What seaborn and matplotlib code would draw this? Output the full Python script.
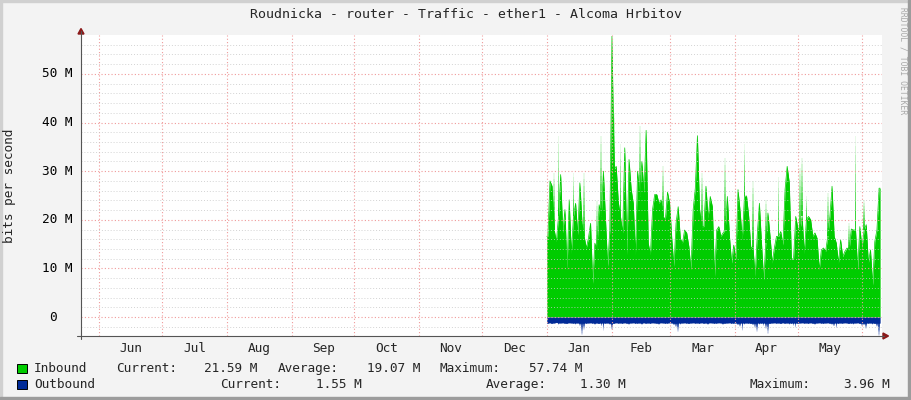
import numpy as np
import pandas as pd
import matplotlib
matplotlib.use("Agg")
import matplotlib.pyplot as plt
import matplotlib.dates as mdates
from matplotlib.patches import Rectangle, Polygon
from matplotlib.lines import Line2D
import seaborn as sns

# ── data (Mbit/s, one value per ~day from 1 Jan) ─────────────
in_avg = [
    16.6, 28.0, 26.9, 17.9, 15.5, 20.7, 29.3, 17.3, 22.1, 9.7, 24.1, 13.1,
    20.7, 23.4, 16.9, 27.6, 19.3, 16.6, 14.2, 16.2, 19.3, 6.9, 15.2, 13.8,
    23.1, 20.7, 30.0, 20.0, 10.4, 17.9, 57.74, 30.3, 31.0, 23.6, 20.7, 17.3,
    34.8, 12.8, 32.4, 26.3, 23.4, 12.8, 30.0, 24.8, 32.0, 25.5, 38.4, 15.2,
    12.8, 22.1, 25.2, 25.2, 23.4, 24.1, 20.7, 20.0, 25.7, 23.4, 16.2, 10.4,
    19.3, 22.7, 16.2, 15.2, 17.9, 17.3, 14.5, 9.7, 22.1, 26.5, 37.3, 22.2,
    18.6, 18.6, 26.9, 20.3, 24.8, 22.7, 8.3, 17.9, 18.6, 16.6, 17.3, 17.9,
    24.8, 16.6, 11.1, 14.8, 11.8, 26.2, 21.7, 15.9, 24.8, 24.9, 20.7, 14.2,
    14.5, 8.3, 16.9, 23.4, 15.2, 7.6, 15.2, 21.4, 16.6, 11.1, 14.2, 16.6,
    16.6, 17.6, 14.8, 26.2, 31.0, 27.6, 11.8, 12.1, 20.7, 18.3, 17.9, 20.7,
    13.1, 20.0, 20.7, 20.0, 16.6, 17.3, 16.2, 9.7, 13.8, 14.2, 13.5, 16.6,
    20.7, 26.9, 16.6, 15.2, 11.1, 15.9, 12.4, 13.5, 14.2, 13.8, 18.1, 17.9,
    17.9, 9.8, 18.6, 14.2, 17.9, 19.0, 11.1, 13.8, 6.6, 15.5, 17.9, 26.5,
]
in_max = [
    16.6, 28.0, 26.9, 29.6, 15.5, 37.2, 29.3, 17.3, 22.1, 9.7, 24.1, 13.1,
    29.6, 23.4, 16.9, 27.6, 19.3, 29.6, 14.2, 16.2, 19.3, 6.9, 15.2, 23.8,
    23.1, 37.2, 30.0, 20.0, 10.4, 17.9, 57.74, 42.0, 31.0, 23.6, 35.5, 17.3,
    34.8, 12.8, 32.4, 26.3, 23.4, 12.8, 30.0, 39.2, 32.0, 25.5, 38.4, 15.2,
    12.8, 22.1, 25.2, 25.2, 23.4, 24.1, 31.0, 20.0, 25.7, 23.4, 16.2, 10.4,
    19.3, 22.7, 16.2, 15.2, 17.9, 17.3, 14.5, 9.7, 22.1, 26.5, 37.3, 22.2,
    29.6, 18.6, 26.9, 20.3, 24.8, 22.7, 8.3, 17.9, 18.6, 16.6, 17.3, 32.7,
    24.8, 16.6, 11.1, 14.8, 11.8, 26.2, 21.7, 15.9, 35.5, 24.9, 20.7, 14.2,
    27.9, 8.3, 16.9, 23.4, 15.2, 7.6, 24.1, 21.4, 16.6, 11.1, 14.2, 16.6,
    28.9, 17.6, 14.8, 26.2, 31.0, 27.6, 11.8, 12.1, 20.7, 18.3, 30.7, 32.7,
    13.1, 24.8, 20.7, 20.0, 16.6, 17.3, 16.2, 9.7, 13.8, 14.2, 13.5, 25.5,
    20.7, 26.9, 16.6, 15.2, 11.1, 15.9, 12.4, 13.5, 14.2, 19.3, 18.1, 17.9,
    37.2, 9.8, 18.6, 14.2, 24.1, 19.0, 11.1, 13.8, 6.6, 15.5, 17.9, 26.5,
]
out_vals = [
    -1.4, -1.2, -1.5, -1.3, -1.1, -1.6, -1.3, -1.2, -1.4, -1.5, -1.2, -1.3,
    -1.4, -1.6, -1.3, -1.8, -3.7, -2.6, -1.5, -1.3, -1.2, -1.4, -1.6, -1.3,
    -1.5, -1.9, -2.8, -1.4, -1.3, -1.6, -2.7, -1.5, -1.2, -1.4, -1.3, -1.5,
    -1.2, -1.4, -1.6, -1.3, -1.2, -1.5, -1.4, -1.3, -1.6, -1.2, -1.4, -1.3,
    -1.5, -1.2, -1.3, -1.4, -1.6, -1.2, -1.3, -1.5, -1.4, -1.2, -1.3, -1.7,
    -2.1, -3.0, -1.6, -1.3, -1.2, -1.4, -1.5, -1.3, -1.2, -1.4, -1.3, -1.5,
    -1.2, -1.4, -1.3, -1.6, -1.2, -1.3, -1.5, -1.4, -1.2, -1.3, -1.6, -1.4,
    -1.3, -1.2, -1.5, -1.4, -1.3, -1.7, -2.0, -2.9, -1.6, -1.3, -1.4, -1.5,
    -1.7, -2.2, -3.0, -1.6, -1.4, -1.8, -2.4, -3.4, -1.5, -1.3, -1.2, -1.4,
    -1.3, -1.5, -1.2, -1.4, -1.3, -1.6, -1.5, -1.8, -2.2, -1.4, -1.3, -1.2,
    -1.4, -1.3, -1.5, -1.2, -1.4, -1.6, -1.3, -1.2, -1.4, -1.5, -1.3, -1.2,
    -1.4, -1.6, -1.9, -2.3, -1.5, -1.3, -1.4, -1.2, -1.3, -1.5, -1.4, -1.6,
    -1.3, -1.2, -1.5, -1.8, -1.7, -2.4, -1.4, -1.3, -1.6, -1.5, -2.0, -3.96,
]
months = ["Jun", "Jul", "Aug", "Sep", "Oct", "Nov", "Dec",
          "Jan", "Feb", "Mar", "Apr", "May"]
y_ticks = [0, 10, 20, 30, 40, 50]
y_labels = ["0", "10 M", "20 M", "30 M", "40 M", "50 M"]
in_stats = ["21.59 M", "19.07 M", "57.74 M"]
out_stats = ["1.55 M", "1.30 M", "3.96 M"]

TITLE = "Roudnicka - router - Traffic - ether1 - Alcoma Hrbitov"
GREEN = "#00CC00"
BLUE = "#002A97"
W, H = 911, 400

sns.set_theme(style="white", rc={
    "figure.facecolor": "#F3F3F3",
    "axes.facecolor": "#FFFFFF",
})
plt.rcParams["font.family"] = ["DejaVu Sans Mono", "DejaVu Sans"]
FS = 9.2


def fx(px):
    return px / W


def fy(py):
    return 1 - py / H


fig = plt.figure(figsize=(W / 100, H / 100), dpi=100)
ax = fig.add_axes([fx(81), fy(336), (882 - 81) / W, (336 - 35) / H])

# time axis: one value per step starting at 1 Jan 2025
start = mdates.date2num(pd.Timestamp("2025-01-01"))
n = len(in_avg)
step = 159.5 / n
xs = start + (np.arange(n) + 0.5) * step
xe = np.concatenate([[start], xs, [start + n * step]])

# inbound solid area (spiky, point to point) + faded peaks
ye = np.concatenate([[in_avg[0]], in_avg, [in_avg[-1]]])
ax.fill_between(xe, 0, ye, color=GREEN, lw=0)
sns.lineplot(x=xe, y=ye, color=GREEN, lw=0.5, ax=ax, legend=False)
lo = np.array(in_avg)
hi = np.array(in_max)
mask = hi > lo
nl = 10
for k in range(nl):
    b = lo + (hi - lo) * k / nl
    ax.bar(xs[mask], ((hi - lo) / nl)[mask], bottom=b[mask],
           width=step * 0.8, align="center", color=GREEN,
           alpha=0.85 * (1 - k / nl), lw=0)

# outbound: solid core + faded tips
ov = np.array(out_vals)
core = np.maximum(ov, -1.25)
oe = np.concatenate([[core[0]], core, [core[-1]]])
ax.fill_between(xe, 0, oe, color=BLUE, lw=0)
for k in range(nl):
    b = core + (ov - core) * k / nl
    ax.bar(xs, (ov - core) / nl, bottom=b, width=step * 0.7, align="center",
           color=BLUE, alpha=0.9 * (1 - k / nl), lw=0)

# limits
x0 = mdates.date2num(pd.Timestamp("2024-06-01")) - 8.85
x1 = mdates.date2num(pd.Timestamp("2025-06-01")) + 9.4
ax.set_xlim(x0, x1)
ax.set_ylim(-3.9, 58.0)

# ticks / grid
month_starts = pd.date_range("2024-06-01", "2025-06-01", freq="MS")
ms = mdates.date2num(month_starts)
mids = (ms[:-1] + ms[1:]) / 2
ax.set_xticks(ms)
ax.set_xticklabels([])
ax.set_xticks(mids, minor=True)
ax.set_xticklabels(months, minor=True, fontsize=FS)
ax.tick_params(axis="x", which="major", length=3, width=0.7,
               color="#E8A0A0", direction="out")
ax.tick_params(axis="x", which="minor", length=0, pad=4)
ax.set_yticks(y_ticks)
ax.set_yticklabels([])
ax.set_yticks(np.arange(-2, 58, 2), minor=True)
ax.tick_params(axis="y", which="major", length=3, width=0.7,
               color="#E8A0A0", direction="out")
ax.tick_params(axis="y", which="minor", length=0)

ax.set_axisbelow(False)
dot = (0, (1, 2))
ax.xaxis.grid(True, which="major", color="#F09A9A", ls=dot, lw=0.8)
ax.yaxis.grid(True, which="minor", color="#C8C8C8", ls=dot, lw=0.7, alpha=0.8)
ax.yaxis.grid(True, which="major", color="#F09A9A", ls=dot, lw=0.8)
for s in ax.spines.values():
    s.set_visible(False)

ytr = ax.get_yaxis_transform()
for v, lab in zip(y_ticks, y_labels):
    xoff = -(81 - 72.7) / 801 if lab != "0" else -(81 - 56.7) / 801
    ax.text(xoff, v, lab, transform=ytr, ha="right", va="center",
            fontsize=FS, color="black")

# axis lines with arrows
fig.add_artist(Line2D([fx(81), fx(81)], [fy(339), fy(31)], color="#555555", lw=0.8))
fig.add_artist(Line2D([fx(77), fx(884)], [fy(336), fy(336)], color="#555555", lw=0.8))
fig.add_artist(Polygon([(fx(78), fy(34)), (fx(84), fy(34)), (fx(81), fy(28.5))],
                       closed=True, color="#8B1A1A", transform=fig.transFigure))
fig.add_artist(Polygon([(fx(883), fy(333)), (fx(883), fy(339)), (fx(888.5), fy(336))],
                       closed=True, color="#8B1A1A", transform=fig.transFigure))

# texts
fig.text(fx(466), fy(14), TITLE, ha="center", va="center", fontsize=9.5)
fig.text(fx(10), fy(186), "bits per second", rotation=90,
         ha="center", va="center", fontsize=FS)
fig.text(fx(902.5), fy(61), "RRDTOOL / TOBI OETIKER", rotation=270,
         ha="center", va="center", fontsize=5.8, color="#A8A8A8")

# legend
for yy, col in [(364.3, GREEN), (380, BLUE)]:
    fig.add_artist(Rectangle((fx(17.3), fy(yy + 8.5)), 9.5 / W, 8.5 / H,
                             facecolor=col, edgecolor="black", lw=0.7,
                             transform=fig.transFigure))
row1 = [("Inbound", 34), ("Current:", 116.5), (in_stats[0], 204.5),
        ("Average:", 278), (in_stats[1], 367), ("Maximum:", 440),
        (in_stats[2], 529)]
row2 = [("Outbound", 34), ("Current:", 220), (out_stats[0], 315.7),
        ("Average:", 485.5), (out_stats[1], 579.7), ("Maximum:", 750),
        (out_stats[2], 843.5)]
for txt, xx in row1:
    fig.text(fx(xx), fy(368.5), txt, ha="left", va="center", fontsize=FS)
for txt, xx in row2:
    fig.text(fx(xx), fy(384.2), txt, ha="left", va="center", fontsize=FS)

# frame shading
fig.add_artist(Rectangle((0, fy(2)), 1, 2 / H, color="#D0D0D0", transform=fig.transFigure))
fig.add_artist(Rectangle((0, 0), 2 / W, 1, color="#D0D0D0", transform=fig.transFigure))
fig.add_artist(Rectangle((0, 0), 1, 3 / H, color="#9C9C9C", transform=fig.transFigure))
fig.add_artist(Rectangle((fx(908), 0), 3 / W, 1, color="#9C9C9C", transform=fig.transFigure))

fig.savefig("out.png", dpi=100, facecolor=fig.get_facecolor())
